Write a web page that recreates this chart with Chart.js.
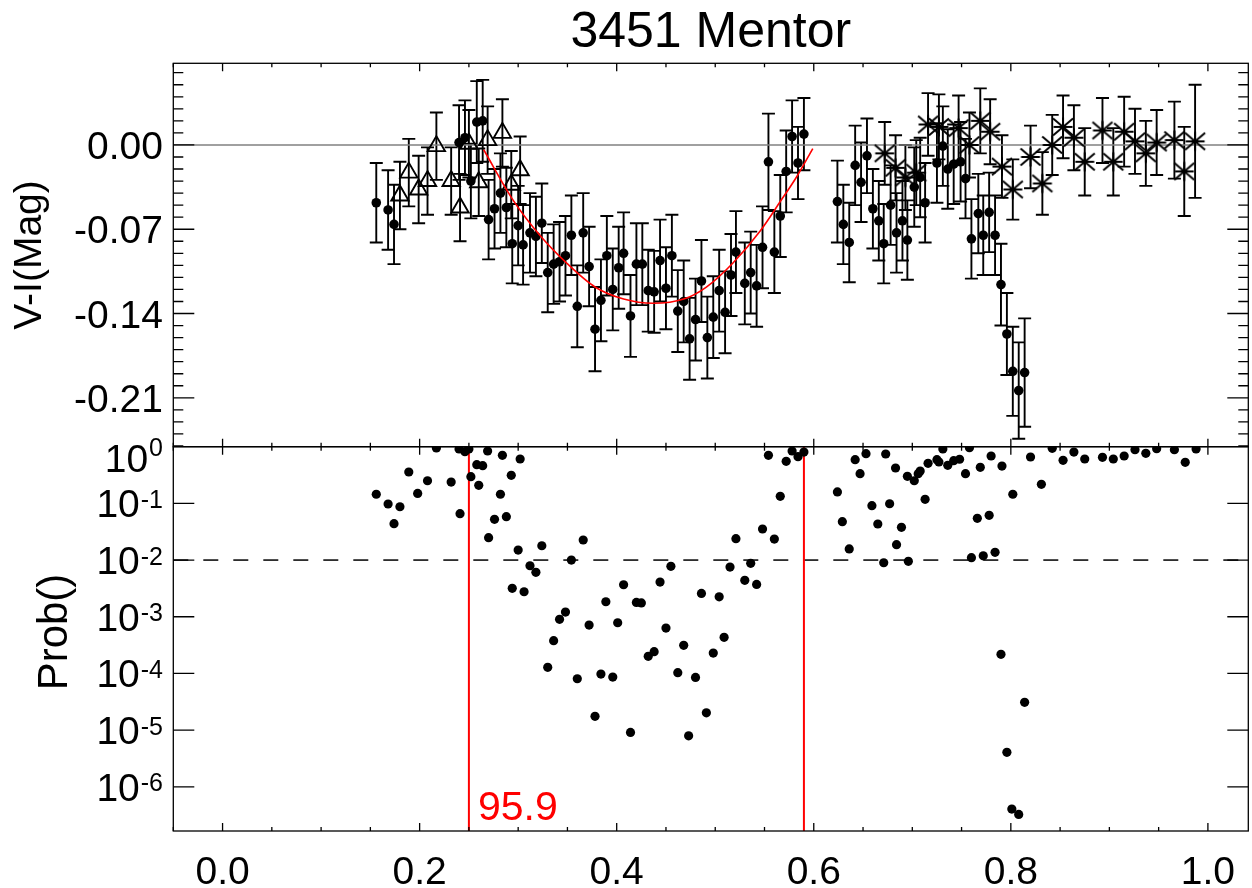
<!DOCTYPE html>
<html><head><meta charset="utf-8">
<script src="https://cdn.jsdelivr.net/npm/chart.js@4.4.0/dist/chart.umd.min.js"></script>
<style>html,body{margin:0;padding:0;background:#fff;}canvas{display:block;}</style>
</head><body>
<canvas id="c" width="1252" height="888"></canvas>
<script>
// ---------------- data ----------------
const titleText = '3451 Mentor';
const topAxisTitle = 'V-I(Mag)';
const botAxisTitle = 'Prob()';
const xTickValues = [0, 0.2, 0.4, 0.6, 0.8, 1.0];
const xTickLabels = ['0.0', '0.2', '0.4', '0.6', '0.8', '1.0'];
const topTickValues = [0, -0.07, -0.14, -0.21];
const topTickLabels = ['0.00', '-0.07', '-0.14', '-0.21'];
const botTickExps = [0, -1, -2, -3, -4, -5, -6];

// filled circles (V-I) with errors
const circPhase = [0.156,0.168,0.174,0.240,0.246,0.252,0.258,0.264,0.270,0.276,0.282,0.288,0.294,0.300,0.305,0.312,0.318,0.324,0.330,0.336,0.342,0.348,0.354,0.360,0.366,0.372,0.378,0.384,0.390,0.396,0.402,0.407,0.414,0.420,0.426,0.432,0.438,0.444,0.450,0.456,0.462,0.468,0.474,0.480,0.486,0.492,0.498,0.504,0.510,0.516,0.521,0.530,0.536,0.542,0.548,0.554,0.560,0.566,0.572,0.578,0.584,0.590,
  0.624,0.630,0.636,0.642,0.648,0.654,0.660,0.666,0.671,0.678,0.684,0.690,0.695,0.702,0.708,0.713,0.725,0.731,0.736,0.742,0.749,0.754,0.760,0.767,0.772,0.778,0.784,0.790,0.796,0.802,0.808,0.814];
const circV = [-0.048,-0.054,-0.066,0.002,0.006,-0.030,0.019,0.020,-0.062,-0.053,-0.040,-0.052,-0.082,-0.067,-0.083,-0.073,-0.076,-0.065,-0.106,-0.099,-0.097,-0.092,-0.075,-0.134,-0.073,-0.101,-0.153,-0.129,-0.092,-0.120,-0.102,-0.090,-0.142,-0.099,-0.099,-0.121,-0.122,-0.096,-0.119,-0.092,-0.138,-0.130,-0.161,-0.145,-0.113,-0.160,-0.143,-0.121,-0.139,-0.108,-0.089,-0.115,-0.106,-0.117,-0.085,-0.014,-0.089,-0.059,-0.022,0.007,-0.015,0.009,
  -0.047,-0.066,-0.081,-0.017,-0.031,-0.009,-0.053,-0.063,-0.082,-0.050,-0.073,-0.063,-0.079,-0.035,-0.027,-0.048,-0.015,-0.001,-0.020,-0.016,-0.014,-0.028,-0.078,-0.057,-0.075,-0.056,-0.075,-0.116,-0.157,-0.188,-0.204,-0.189];
const circErr = [0.033,0.033,0.033,0.031,0.031,0.031,0.034,0.034,0.033,0.033,0.033,0.033,0.033,0.033,0.033,0.033,0.033,0.033,0.033,0.033,0.033,0.033,0.033,0.034,0.033,0.033,0.035,0.034,0.033,0.034,0.034,0.034,0.034,0.034,0.034,0.034,0.034,0.034,0.034,0.034,0.034,0.034,0.034,0.034,0.034,0.034,0.034,0.034,0.034,0.034,0.034,0.034,0.034,0.034,0.034,0.040,0.034,0.034,0.034,0.030,0.030,0.030,
  0.034,0.033,0.033,0.033,0.033,0.031,0.033,0.033,0.033,0.033,0.033,0.033,0.033,0.033,0.033,0.033,0.033,0.033,0.033,0.033,0.033,0.033,0.033,0.033,0.033,0.033,0.033,0.034,0.034,0.037,0.040,0.045];

// open triangles
const triPhase = [0.180,0.189,0.199,0.208,0.217,0.232,0.241,0.250,0.260,0.269,0.284,0.293,0.302];
const triV = [-0.042,-0.023,-0.037,-0.030,-0.001,-0.030,-0.052,0.001,-0.031,0.004,0.010,-0.033,-0.021];
const triErr = [0.028,0.028,0.028,0.028,0.028,0.028,0.028,0.028,0.028,0.028,0.028,0.028,0.028];

// asterisks
const astPhase = [0.672,0.683,0.693,0.704,0.716,0.727,0.747,0.758,0.769,0.779,0.791,0.802,0.820,0.832,0.842,0.853,0.864,0.875,0.893,0.904,0.915,0.926,0.937,0.948,0.966,0.976,0.987];
const astV = [-0.007,-0.019,-0.027,-0.023,0.017,0.015,0.014,0.000,0.020,0.011,-0.018,-0.037,-0.010,-0.032,0.000,0.015,0.006,-0.014,0.012,-0.014,0.011,0.003,-0.007,0.002,0.004,-0.022,0.003];
const astErr = [0.026,0.027,0.027,0.027,0.026,0.027,0.027,0.027,0.027,0.027,0.026,0.025,0.026,0.026,0.025,0.026,0.027,0.028,0.027,0.028,0.029,0.027,0.027,0.027,0.032,0.037,0.047];

// red fitted curve
const fitPhase = [0.265,0.295,0.322,0.349,0.378,0.407,0.437,0.468,0.491,0.518,0.546,0.566,0.583,0.599];
const fitV = [-0.004,-0.046,-0.075,-0.098,-0.118,-0.128,-0.1315,-0.128,-0.118,-0.098,-0.071,-0.047,-0.026,-0.003];

// probability panel
const probPhase = [0.156,0.168,0.174,0.180,0.189,0.198,0.208,0.217,0.232,0.240,0.241,0.246,0.250,0.252,0.258,0.260,0.264,0.269,0.270,0.276,0.282,0.284,0.288,0.293,0.294,0.300,0.302,0.306,0.312,0.318,0.324,0.330,0.336,0.342,0.348,0.354,0.360,0.366,0.372,0.378,0.384,0.389,0.396,0.401,0.407,0.414,0.420,0.425,0.432,0.438,0.444,0.450,0.455,0.462,0.468,0.473,0.480,0.486,0.491,0.498,0.504,0.509,0.515,0.521,0.530,0.536,0.542,0.548,0.554,0.560,0.566,0.572,0.578,0.584,0.590,
  0.624,0.629,0.636,0.642,0.647,0.653,0.659,0.665,0.671,0.673,0.677,0.683,0.684,0.689,0.695,0.696,0.702,0.706,0.708,0.713,0.716,0.725,0.727,0.731,0.736,0.742,0.748,0.754,0.758,0.760,0.766,0.769,0.772,0.778,0.780,0.784,0.790,0.791,0.796,0.801,0.802,0.808,0.814,0.820,0.831,0.842,0.853,0.864,0.875,0.893,0.904,0.915,0.926,0.937,0.948,0.966,0.977,0.988];
const probValue = [0.145,0.0975,0.0438,0.0873,0.358,0.150,0.251,0.948,0.238,0.910,0.0658,0.817,0.910,0.296,0.481,0.208,0.462,0.839,0.0248,0.0524,0.145,0.705,0.0582,0.313,0.00317,0.0150,0.607,0.00276,0.00794,0.00607,0.0179,0.000128,0.000378,0.000899,0.00121,0.0100,0.0000805,0.0226,0.000714,0.0000175,0.0000975,0.00184,0.0000863,0.000783,0.00367,0.00000912,0.00179,0.00175,0.000200,0.000242,0.00409,0.000632,0.00774,0.000103,0.000313,0.00000794,0.0000851,0.00258,0.0000202,0.000229,0.00225,0.000433,0.00753,0.0238,0.00439,0.00875,0.00372,0.0353,0.705,0.0235,0.133,0.552,0.839,0.667,0.805,
  0.159,0.0475,0.0157,0.590,0.334,0.752,0.0910,0.0433,0.00897,0.743,0.0986,0.421,0.0187,0.0378,0.300,0.00951,0.251,0.334,0.372,0.118,0.509,0.590,0.537,0.910,0.470,0.566,0.600,0.334,0.959,0.0110,0.0546,0.433,0.0119,0.0615,0.686,0.0137,0.000217,0.456,0.00000405,0.000000405,0.145,0.000000326,0.0000309,0.658,0.217,0.935,0.575,0.805,0.607,0.650,0.607,0.686,0.885,0.764,0.923,0.885,0.531,0.910];

const zeroLevel = 0;
const sigLevel = 0.01;
const windowPhase = [0.25, 0.59];
const windowLabel = '95.9';

// ---------------- chart ----------------
const FF = "'Liberation Sans', Arial, Helvetica, sans-serif";
const pts = (xs, ys) => xs.map((x, i) => ({x: x, y: ys[i]}));
const X_MIN = -0.05, X_MAX = 1.041;

// IDL-like asterisk symbol
const astSym = document.createElement('canvas');
astSym.width = 26; astSym.height = 26;
(function () {
  const g = astSym.getContext('2d');
  g.translate(13, 13);
  g.strokeStyle = '#000'; g.lineWidth = 2; g.lineCap = 'butt';
  g.beginPath();
  g.moveTo(-9.5, 0); g.lineTo(9.5, 0);
  g.moveTo(0, -9.5); g.lineTo(0, 9.5);
  g.moveTo(-10, -8.5); g.lineTo(10, 8.5);
  g.moveTo(-10, 8.5); g.lineTo(10, -8.5);
  g.stroke();
})();

function drawErrBars(ctx, xs, ys, es, xs_, ys_) {
  ctx.beginPath();
  for (let i = 0; i < xs.length; i++) {
    const px = xs_.getPixelForValue(xs[i]);
    const p1 = ys_.getPixelForValue(ys[i] + es[i]);
    const p2 = ys_.getPixelForValue(ys[i] - es[i]);
    ctx.moveTo(px, p1); ctx.lineTo(px, p2);
    ctx.moveTo(px - 6.5, p1); ctx.lineTo(px + 6.5, p1);
    ctx.moveTo(px - 6.5, p2); ctx.lineTo(px + 6.5, p2);
  }
  ctx.stroke();
}

const idlPlugin = {
  id: 'idl',
  beforeDatasetsDraw(chart) {
    const ctx = chart.ctx, x = chart.scales.x, y = chart.scales.yTop;
    ctx.save();
    ctx.beginPath(); ctx.rect(x.left, y.top, x.right - x.left, y.bottom - y.top); ctx.clip();
    ctx.strokeStyle = '#000'; ctx.lineWidth = 1.9;
    drawErrBars(ctx, circPhase, circV, circErr, x, y);
    drawErrBars(ctx, triPhase, triV, triErr, x, y);
    drawErrBars(ctx, astPhase, astV, astErr, x, y);
    ctx.restore();
  },
  afterDatasetsDraw(chart) {
    const ctx = chart.ctx, x = chart.scales.x, yt = chart.scales.yTop, yb = chart.scales.yBot;
    const L = x.left, R = x.right;
    ctx.save();
    ctx.strokeStyle = '#000'; ctx.lineWidth = 1.3;
    ctx.strokeRect(L, yt.top, R - L, yt.bottom - yt.top);
    ctx.strokeRect(L, yb.top, R - L, yb.bottom - yb.top);
    ctx.beginPath();
    const edges = [[yt.top, 1], [yt.bottom, -1], [yb.top, 1], [yb.bottom, -1]];
    for (let k = -1; k <= 20; k++) {
      const v = k * 0.05;
      if (v < X_MIN - 1e-9 || v > X_MAX) continue;
      const major = (k % 4 === 0);
      const len = major ? 8 : 4;
      const px = x.getPixelForValue(v);
      for (const [ey, dir] of edges) { ctx.moveTo(px, ey); ctx.lineTo(px, ey + dir * len); }
    }
    for (let k = -25; k <= 6; k++) {
      const v = k / 100;
      const major = topTickValues.some(t => Math.abs(t - v) < 1e-9);
      const len = major ? 21 : 10;
      const py = yt.getPixelForValue(v);
      ctx.moveTo(L, py); ctx.lineTo(L + len, py);
      ctx.moveTo(R, py); ctx.lineTo(R - len, py);
    }
    for (const e of botTickExps) {
      if (e === 0) continue;
      const py = yb.getPixelForValue(Math.pow(10, e));
      ctx.moveTo(L, py); ctx.lineTo(L + 21, py);
      ctx.moveTo(R, py); ctx.lineTo(R - 21, py);
    }
    ctx.stroke();

    ctx.fillStyle = '#000';
    ctx.textBaseline = 'alphabetic';
    ctx.font = '39px ' + FF;
    ctx.textAlign = 'center';
    xTickValues.forEach((v, i) => ctx.fillText(xTickLabels[i], x.getPixelForValue(v), 883.5));
    ctx.textAlign = 'right';
    topTickValues.forEach((v, i) => ctx.fillText(topTickLabels[i], 163, yt.getPixelForValue(v) + 14));
    ctx.textAlign = 'left';
    for (const e of botTickExps) {
      const py = yb.getPixelForValue(Math.pow(10, e));
      const sup = String(e);
      ctx.font = '39px ' + FF; const w1 = ctx.measureText('10').width;
      ctx.font = '25px ' + FF; const w2 = ctx.measureText(sup).width;
      const x0 = 163 - w1 - w2 - 1;
      const dyBig = e === 0 ? 25 : 14;
      const dySup = e === 0 ? 9 : 4.5;
      ctx.font = '39px ' + FF; ctx.fillText('10', x0, py + dyBig);
      ctx.font = '25px ' + FF; ctx.fillText(sup, x0 + w1 + 1, py + dySup);
    }
    ctx.textAlign = 'center';
    ctx.font = '50px ' + FF;
    ctx.fillText(titleText, (L + R) / 2, 47);
    ctx.textBaseline = 'middle';
    ctx.font = '39px ' + FF;
    ctx.save(); ctx.translate(30, (yt.top + yt.bottom) / 2); ctx.rotate(-Math.PI / 2); ctx.fillText(topAxisTitle, 0, 0); ctx.restore();
    ctx.font = '42px ' + FF;
    ctx.save(); ctx.translate(55, 632); ctx.rotate(-Math.PI / 2); ctx.fillText(botAxisTitle, 0, 0); ctx.restore();
    ctx.textBaseline = 'alphabetic';
    ctx.textAlign = 'left';
    ctx.fillStyle = '#ff0000';
    ctx.font = '41px ' + FF;
    ctx.fillText(windowLabel, x.getPixelForValue(windowPhase[0]) + 9, 820);
    ctx.restore();
  }
};

new Chart(document.getElementById('c'), {
  type: 'scatter',
  data: {
    datasets: [
      {label: 'fit', type: 'line', data: pts(fitPhase, fitV), yAxisID: 'yTop', borderColor: '#ff0000', borderWidth: 1.6, pointRadius: 0, cubicInterpolationMode: 'monotone', fill: false, order: 0},
      {label: 'circles', data: pts(circPhase, circV), yAxisID: 'yTop', pointStyle: 'circle', pointRadius: 4.8, backgroundColor: '#000', borderColor: '#000', borderWidth: 0, order: 1},
      {label: 'triangles', data: pts(triPhase, triV), yAxisID: 'yTop', pointStyle: 'triangle', pointRadius: 10, backgroundColor: 'rgba(0,0,0,0)', borderColor: '#000', borderWidth: 1.9, order: 2},
      {label: 'asterisks', data: pts(astPhase, astV), yAxisID: 'yTop', pointStyle: astSym, pointRadius: 10, order: 3},
      {label: 'prob', data: pts(probPhase, probValue), yAxisID: 'yBot', pointStyle: 'circle', pointRadius: 4.6, backgroundColor: '#000', borderColor: '#000', borderWidth: 0, order: 4},
      {label: 'win1', type: 'line', data: [{x: windowPhase[0], y: 1}, {x: windowPhase[0], y: 1e-9}], yAxisID: 'yBot', borderColor: '#ff0000', borderWidth: 2, pointRadius: 0, order: 5},
      {label: 'win2', type: 'line', data: [{x: windowPhase[1], y: 1}, {x: windowPhase[1], y: 1e-9}], yAxisID: 'yBot', borderColor: '#ff0000', borderWidth: 2, pointRadius: 0, order: 5},
      {label: 'sig', type: 'line', data: [{x: X_MIN, y: sigLevel}, {x: X_MAX, y: sigLevel}], yAxisID: 'yBot', borderColor: '#000', borderWidth: 1.5, borderDash: [15, 15], pointRadius: 0, order: 6},
      {label: 'zero', type: 'line', data: [{x: X_MIN, y: zeroLevel}, {x: X_MAX, y: zeroLevel}], yAxisID: 'yTop', borderColor: '#808080', borderWidth: 1.5, pointRadius: 0, order: 7}
    ]
  },
  options: {
    responsive: false,
    devicePixelRatio: 1,
    animation: false,
    events: [],
    layout: {autoPadding: false, padding: {left: 173.3, right: 3.7, top: 63.3, bottom: 57}},
    plugins: {legend: {display: false}, tooltip: {enabled: false}, title: {display: false}},
    scales: {
      x: {type: 'linear', min: X_MIN, max: X_MAX, display: false},
      yBot: {type: 'logarithmic', min: 1.66e-7, max: 1, display: false, position: 'left', stack: 'panels', stackWeight: 384.3, weight: 1},
      yTop: {type: 'linear', min: -0.2506, max: 0.0678, display: false, position: 'left', stack: 'panels', stackWeight: 383.4, weight: 2}
    }
  },
  plugins: [idlPlugin]
});
</script>
</body></html>
